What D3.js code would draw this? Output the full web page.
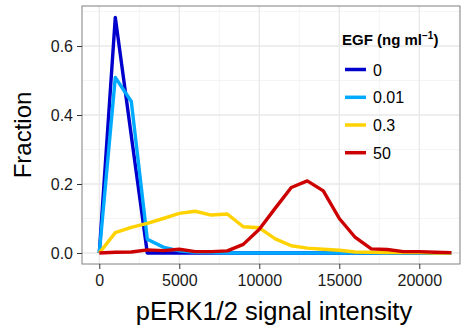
<!DOCTYPE html>
<html><head><meta charset="utf-8">
<script src="https://cdn.jsdelivr.net/npm/d3@7"></script>
<style>body{margin:0;background:#fff}text{font-family:"Liberation Sans",Arial,sans-serif}</style>
</head><body><svg id="c" width="461" height="330"></svg>
<script>
const intensity = d3.range(0, 22001, 1000);
const seriesNames = ["0", "0.01", "0.3", "50"];
const colors = ["#0000cc", "#00aaff", "#ffd200", "#cc0000"];
const egf0 =    [0, 0.683, 0.34, 0.0, 0, 0, 0, 0, 0, 0, 0, 0, 0, 0, 0, 0, 0, 0, 0, 0, 0, 0, 0];
const egf001 =  [0, 0.509, 0.439, 0.040, 0.017, 0.006, 0.002, 0.001, 0, 0, 0, 0, 0, 0, 0, 0, 0, 0, 0, 0, 0, 0, 0];
const egf03 =   [0, 0.059, 0.074, 0.086, 0.100, 0.115, 0.121, 0.110, 0.113, 0.076, 0.073, 0.041, 0.021, 0.014, 0.011, 0.008, 0.003, 0.002, 0.001, 0.001, 0.001, 0, 0];
const egf50 =   [0, 0.002, 0.003, 0.009, 0.007, 0.011, 0.004, 0.004, 0.006, 0.025, 0.069, 0.130, 0.190, 0.209, 0.180, 0.100, 0.045, 0.012, 0.010, 0.004, 0.004, 0.002, 0.001];
const seriesValues = [egf0, egf001, egf03, egf50];
const xTicks = [0, 5000, 10000, 15000, 20000];
const yTicks = [0, 0.2, 0.4, 0.6];

const svg = d3.select("#c");
const L = 82, R = 460, T = 6, B = 264;
const x = d3.scaleLinear().domain([-1081, 22544]).range([L, R]);
const y = d3.scaleLinear().domain([-0.0319, 0.716]).range([B, T]);

// grid
const xMinor = [-2500, 2500, 7500, 12500, 17500, 22500].filter(v => x(v) > L && x(v) < R);
const yMinor = [0.1, 0.3, 0.5, 0.7];
const g = svg.append("g");
g.selectAll(".xm").data(xMinor).enter().append("line")
  .attr("x1", d => x(d)).attr("x2", d => x(d)).attr("y1", T).attr("y2", B)
  .attr("stroke", "#f4f4f4").attr("stroke-width", 1);
g.selectAll(".ym").data(yMinor).enter().append("line")
  .attr("y1", d => y(d)).attr("y2", d => y(d)).attr("x1", L).attr("x2", R)
  .attr("stroke", "#f4f4f4").attr("stroke-width", 1);
g.selectAll(".xM").data(xTicks).enter().append("line")
  .attr("x1", d => x(d)).attr("x2", d => x(d)).attr("y1", T).attr("y2", B)
  .attr("stroke", "#e8e8e8").attr("stroke-width", 1.3);
g.selectAll(".yM").data(yTicks).enter().append("line")
  .attr("y1", d => y(d)).attr("y2", d => y(d)).attr("x1", L).attr("x2", R)
  .attr("stroke", "#e8e8e8").attr("stroke-width", 1.3);

// lines
const line = d3.line().x((d, i) => x(intensity[i])).y(d => y(d));
seriesValues.forEach((vals, k) => {
  svg.append("path").datum(vals).attr("d", line)
    .attr("fill", "none").attr("stroke", colors[k]).attr("stroke-width", 3.4)
    .attr("stroke-linejoin", "round");
});

// border
svg.append("rect").attr("x", L).attr("y", T).attr("width", R - L).attr("height", B - T)
  .attr("fill", "none").attr("stroke", "#808080").attr("stroke-width", 1);

// axes
const xAxis = svg.append("g").attr("transform", `translate(0,${B})`)
  .call(d3.axisBottom(x).tickValues(xTicks).tickSize(5).tickPadding(6).tickFormat(d3.format("d")));
const yAxis = svg.append("g").attr("transform", `translate(${L},0)`)
  .call(d3.axisLeft(y).tickValues(yTicks).tickSize(5).tickPadding(4).tickFormat(d3.format(".1f")));
[xAxis, yAxis].forEach(a => {
  a.select(".domain").remove();
  a.selectAll(".tick line").attr("stroke", "#333").attr("stroke-width", 1);
  a.selectAll(".tick text").attr("fill", "#1a1a1a").style("font-size", "16px")
    .style("font-family", '"Liberation Sans",Arial,sans-serif');
});

// titles
svg.append("text").attr("x", 274).attr("y", 320).attr("text-anchor", "middle")
  .style("font-size", "25.5px").attr("fill", "#000").text("pERK1/2 signal intensity");
svg.append("text").attr("transform", "translate(31,135) rotate(-90)").attr("text-anchor", "middle")
  .style("font-size", "24px").attr("fill", "#000").text("Fraction");

// legend
const lt = svg.append("text").attr("x", 342).attr("y", 45).style("font-size", "15px").style("font-weight", "bold");
lt.append("tspan").text("EGF (ng ml");
lt.append("tspan").attr("dy", -6).style("font-size", "10px").text("−1");
lt.append("tspan").attr("dy", 6).text(")");
const ly = [69.5, 97.3, 125, 152.7];
seriesNames.forEach((n, k) => {
  svg.append("line").attr("x1", 345).attr("x2", 366).attr("y1", ly[k]).attr("y2", ly[k])
    .attr("stroke", colors[k]).attr("stroke-width", 3.5);
  svg.append("text").attr("x", 373).attr("y", ly[k] + 6).style("font-size", "16px").text(n);
});
</script></body></html>
